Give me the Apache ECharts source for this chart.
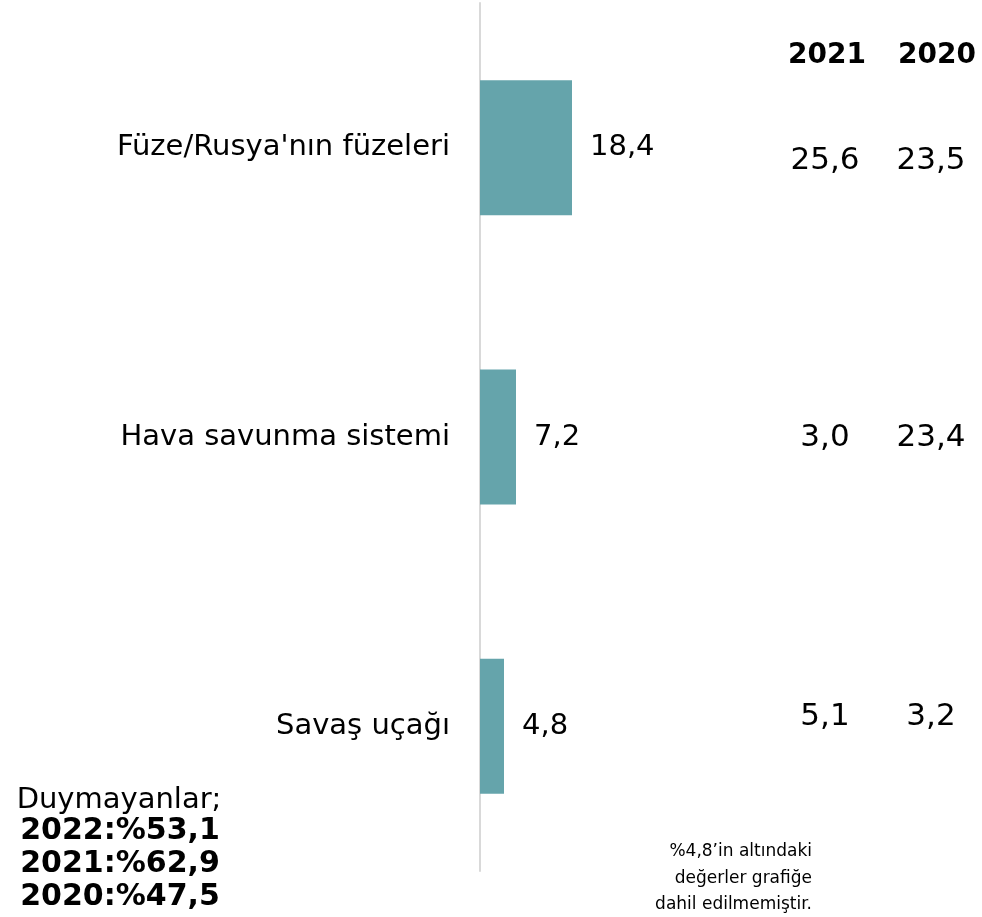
<!DOCTYPE html>
<html><head><meta charset="utf-8">
<script src="https://cdn.jsdelivr.net/npm/echarts@6/dist/echarts.min.js"></script>
<style>html,body{margin:0;padding:0;background:#fff}#c{width:982px;height:917px}</style>
</head><body><div id="c"></div>
<script>
const categories = ["Füze/Rusya'nın füzeleri", "Hava savunma sistemi", "Savaş uçağı"];
const values2022 = [18.4, 7.2, 4.8];
const values2021 = ["25,6", "3,0", "5,1"];
const values2020 = ["23,5", "23,4", "3,2"];
const yearHeaders = ["2021", "2020"];
const notLabel = "Duymayanlar;";
const notHeard = ["2022:%53,1", "2021:%62,9", "2020:%47,5"];
const footnote = ["%4,8’in altındaki", "değerler grafiğe", "dahil edilmemiştir."];

const FONT = "DejaVu Sans";
const chart = echarts.init(document.getElementById('c'));
const fmt = v => v.toFixed(1).replace('.', ',');
chart.setOption({
  animation: false,
  grid: {left: 480, right: 2, top: 3, bottom: 46},
  xAxis: {type: 'value', min: 0, max: 100, show: false},
  yAxis: {
    type: 'category', data: categories, inverse: true,
    axisLine: {show: true, lineStyle: {color: '#D9D9D9', width: 2}},
    axisTick: {show: false},
    axisLabel: {fontFamily: FONT, fontSize: 29, color: '#000', margin: 30}
  },
  series: [{
    type: 'bar', data: values2022, barWidth: 135,
    itemStyle: {color: '#65A4AB'},
    label: {show: true, position: 'right', distance: 18, fontFamily: FONT, fontSize: 29, color: '#000',
            formatter: p => fmt(p.value)}
  }]
});
const g = [];
g.push({type: 'text', x: 827, y: 56, style: {text: yearHeaders[0], font: 'bold 28px "DejaVu Sans"', fill: '#000', align: 'center', verticalAlign: 'middle'}});
g.push({type: 'text', x: 937, y: 56, style: {text: yearHeaders[1], font: 'bold 28px "DejaVu Sans"', fill: '#000', align: 'center', verticalAlign: 'middle'}});
const offs = [13, 1, -9];
categories.forEach((c, i) => {
  const y = chart.convertToPixel({yAxisIndex: 0}, i) + offs[i];
  g.push({type: 'text', x: 825, y: y, style: {text: values2021[i], font: '31px "DejaVu Sans"', fill: '#000', align: 'center', verticalAlign: 'middle'}});
  g.push({type: 'text', x: 931, y: y, style: {text: values2020[i], font: '31px "DejaVu Sans"', fill: '#000', align: 'center', verticalAlign: 'middle'}});
});
g.push({type: 'text', x: 119, y: 800, style: {text: notLabel, font: '29px "DejaVu Sans"', fill: '#000', align: 'center', verticalAlign: 'middle'}});
notHeard.forEach((t, i) => {
  g.push({type: 'text', x: 120, y: 831 + i * 33, style: {text: t, font: 'bold 30px "DejaVu Sans"', fill: '#000', align: 'center', verticalAlign: 'middle'}});
});
footnote.forEach((t, i) => {
  g.push({type: 'text', x: 812, y: 852 + i * 26.5, style: {text: t, font: '17px "DejaVu Sans"', fill: '#000', align: 'right', verticalAlign: 'middle'}});
});
chart.setOption({graphic: g});
</script></body></html>
